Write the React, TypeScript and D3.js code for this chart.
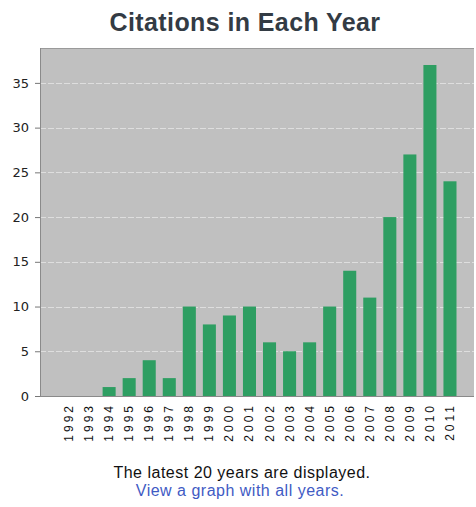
import React, {useRef, useEffect} from 'react';
import * as d3 from 'd3';

const years = ['1992','1993','1994','1995','1996','1997','1998','1999','2000','2001',
    '2002','2003','2004','2005','2006','2007','2008','2009','2010','2011'];
const citations = [0, 0, 1, 2, 4, 2, 10, 8, 9, 10, 6, 5, 6, 10, 14, 11, 20, 27, 37, 24];
const yTicks = [0, 5, 10, 15, 20, 25, 30, 35];

export default function App(){
    const svgRef = useRef<SVGSVGElement>(null);

    useEffect(() => {
        const svg = d3.select(svgRef.current);
        svg.selectAll('*').remove();

        const plot = {left: 40, right: 474, top: 48, bottom: 396};

        const xScale = d3.scaleBand<string>()
            .domain(years)
            .range([plot.left + 19, plot.right - 14])
            .paddingInner(0.35)
            .paddingOuter(0.175);

        const yScale = d3.scaleLinear()
            .domain([0, 38.9])
            .range([plot.bottom, plot.top]);

        // background
        svg.append('rect')
            .attr('x', plot.left).attr('y', plot.top)
            .attr('width', plot.right - plot.left).attr('height', plot.bottom - plot.top)
            .attr('fill', '#c0c0c0');
        svg.append('line')
            .attr('x1', plot.left).attr('x2', plot.right)
            .attr('y1', plot.top + 0.5).attr('y2', plot.top + 0.5)
            .attr('stroke', '#9a9a9a');

        // grid
        svg.append('g').selectAll('line')
            .data(yTicks.filter(d => d > 0))
            .join('line')
            .attr('x1', plot.left).attr('x2', plot.right)
            .attr('y1', d => Math.round(yScale(d)) + 0.5)
            .attr('y2', d => Math.round(yScale(d)) + 0.5)
            .attr('stroke', '#dedede')
            .attr('stroke-dasharray', '6,2');

        // bars
        svg.append('g').selectAll('rect')
            .data(citations)
            .join('rect')
            .attr('x', (d, i) => xScale(years[i]))
            .attr('width', xScale.bandwidth())
            .attr('y', d => yScale(d))
            .attr('height', d => yScale(0) - yScale(d))
            .attr('fill', '#2e9e62');

        // y axis
        const yAxis = svg.append('g')
            .attr('transform', `translate(${plot.left},0)`)
            .call(d3.axisLeft(yScale).tickValues(yTicks).tickSize(5).tickPadding(6));
        yAxis.select('.domain').attr('stroke', '#8a8a8a').attr('d', `M0.5,${plot.top}V${plot.bottom}`);
        yAxis.selectAll('.tick line').attr('stroke', '#777');
        yAxis.selectAll('.tick text')
            .attr('font-family', 'DejaVu Sans')
            .attr('font-size', 13)
            .attr('fill', '#222');

        // bottom line
        svg.append('line')
            .attr('x1', plot.left).attr('x2', plot.right)
            .attr('y1', plot.bottom + 0.5).attr('y2', plot.bottom + 0.5)
            .attr('stroke', '#8a8a8a');

        // x labels
        svg.append('g').selectAll('text')
            .data(years)
            .join('text')
            .attr('transform', d => `translate(${xScale(d) + xScale.bandwidth() / 2 + 4},403) rotate(-90)`)
            .attr('text-anchor', 'end')
            .attr('font-family', 'Liberation Sans')
            .attr('font-size', 12)
            .attr('letter-spacing', 3)
            .attr('fill', '#111')
            .text(d => d);

        // title
        svg.append('text')
            .attr('x', 245).attr('y', 31)
            .attr('text-anchor', 'middle')
            .attr('font-family', 'Liberation Sans')
            .attr('font-weight', 'bold')
            .attr('font-size', 25)
            .attr('letter-spacing', 0.4)
            .attr('fill', '#333b44')
            .text('Citations in Each Year');

        svg.append('text')
            .attr('x', 242).attr('y', 478)
            .attr('text-anchor', 'middle')
            .attr('font-family', 'Liberation Sans')
            .attr('font-size', 16)
            .attr('letter-spacing', 0.5)
            .attr('fill', '#111')
            .text('The latest 20 years are displayed.');

        svg.append('text')
            .attr('x', 240).attr('y', 496)
            .attr('text-anchor', 'middle')
            .attr('font-family', 'Liberation Sans')
            .attr('font-size', 16)
            .attr('letter-spacing', 0.5)
            .attr('fill', '#3f5bc4')
            .text('View a graph with all years.');
    });

    return (
        <svg ref={svgRef} width={476} height={507}
            style={{position: 'absolute', left: 0, top: 0, background: '#fff'}}/>
    );
}
